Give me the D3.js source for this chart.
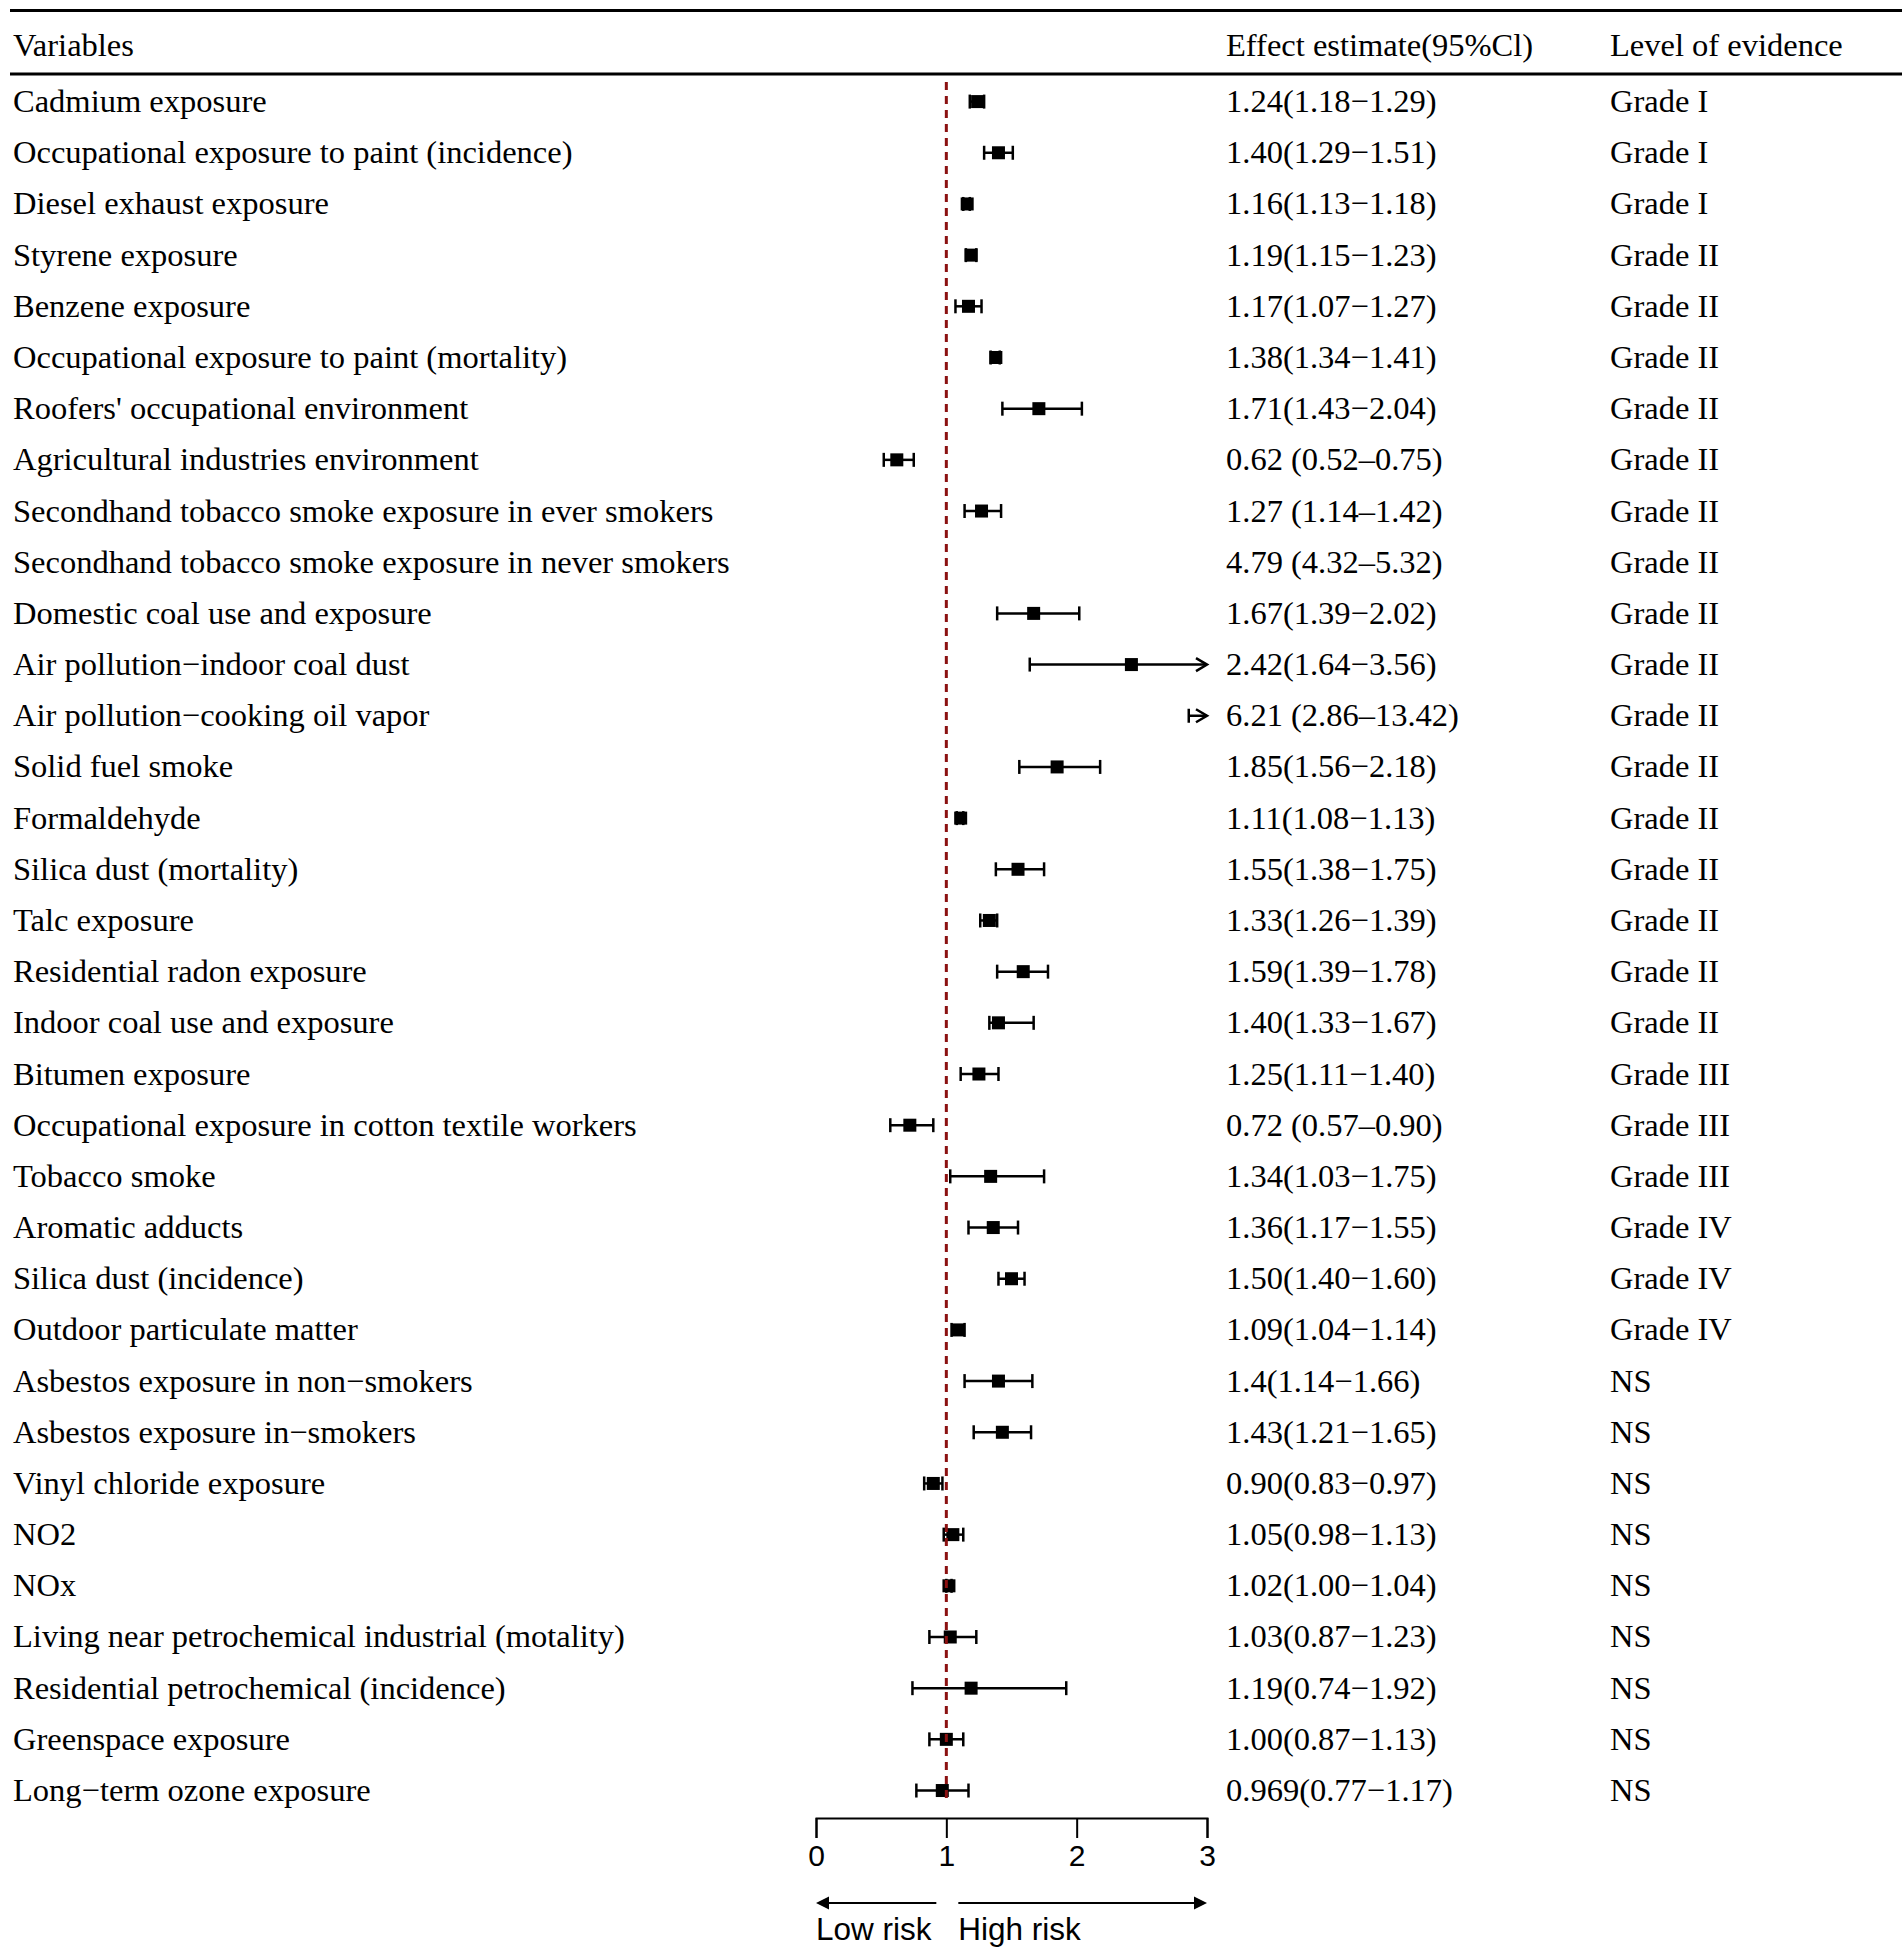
<!DOCTYPE html>
<html>
<head>
<meta charset="utf-8">
<script src="https://cdn.jsdelivr.net/npm/d3@7"></script>
<style>
  body { margin: 0; background: #fff; }
  .lab { font-family: "Liberation Serif", "Times New Roman", serif; font-size: 32.5px; fill: #000; }
  .ax text { font-family: "Liberation Sans", Arial, sans-serif; font-size: 30px; fill: #000; }
  .risk { font-family: "Liberation Sans", Arial, sans-serif; font-size: 31.5px; fill: #000; }
</style>
</head>
<body>
<div id="chart"></div>
<script>
var names = [
  "Cadmium exposure",
  "Occupational exposure to paint (incidence)",
  "Diesel exhaust exposure",
  "Styrene exposure",
  "Benzene exposure",
  "Occupational exposure to paint (mortality)",
  "Roofers' occupational environment",
  "Agricultural industries environment",
  "Secondhand tobacco smoke exposure in ever smokers",
  "Secondhand tobacco smoke exposure in never smokers",
  "Domestic coal use and exposure",
  "Air pollution\u2212indoor coal dust",
  "Air pollution\u2212cooking oil vapor",
  "Solid fuel smoke",
  "Formaldehyde",
  "Silica dust (mortality)",
  "Talc exposure",
  "Residential radon exposure",
  "Indoor coal use and exposure",
  "Bitumen exposure",
  "Occupational exposure in cotton textile workers",
  "Tobacco smoke",
  "Aromatic adducts",
  "Silica dust (incidence)",
  "Outdoor particulate matter",
  "Asbestos exposure in non\u2212smokers",
  "Asbestos exposure in\u2212smokers",
  "Vinyl chloride exposure",
  "NO2",
  "NOx",
  "Living near petrochemical industrial (motality)",
  "Residential petrochemical (incidence)",
  "Greenspace exposure",
  "Long\u2212term ozone exposure"
];
var est = [1.24,1.40,1.16,1.19,1.17,1.38,1.71,0.62,1.27,4.79,1.67,2.42,6.21,1.85,1.11,1.55,1.33,1.59,1.40,1.25,
           0.72,1.34,1.36,1.50,1.09,1.4,1.43,0.90,1.05,1.02,1.03,1.19,1.00,0.969];
var lo  = [1.18,1.29,1.13,1.15,1.07,1.34,1.43,0.52,1.14,4.32,1.39,1.64,2.86,1.56,1.08,1.38,1.26,1.39,1.33,1.11,
           0.57,1.03,1.17,1.40,1.04,1.14,1.21,0.83,0.98,1.00,0.87,0.74,0.87,0.77];
var hi  = [1.29,1.51,1.18,1.23,1.27,1.41,2.04,0.75,1.42,5.32,2.02,3.56,13.42,2.18,1.13,1.75,1.39,1.78,1.67,1.40,
           0.90,1.75,1.55,1.60,1.14,1.66,1.65,0.97,1.13,1.04,1.23,1.92,1.13,1.17];
var estLabels = [
  "1.24(1.18\u22121.29)","1.40(1.29\u22121.51)","1.16(1.13\u22121.18)","1.19(1.15\u22121.23)","1.17(1.07\u22121.27)",
  "1.38(1.34\u22121.41)","1.71(1.43\u22122.04)","0.62 (0.52\u20130.75)","1.27 (1.14\u20131.42)","4.79 (4.32\u20135.32)",
  "1.67(1.39\u22122.02)","2.42(1.64\u22123.56)","6.21 (2.86\u201313.42)","1.85(1.56\u22122.18)","1.11(1.08\u22121.13)",
  "1.55(1.38\u22121.75)","1.33(1.26\u22121.39)","1.59(1.39\u22121.78)","1.40(1.33\u22121.67)","1.25(1.11\u22121.40)",
  "0.72 (0.57\u20130.90)","1.34(1.03\u22121.75)","1.36(1.17\u22121.55)","1.50(1.40\u22121.60)","1.09(1.04\u22121.14)",
  "1.4(1.14\u22121.66)","1.43(1.21\u22121.65)","0.90(0.83\u22120.97)","1.05(0.98\u22121.13)","1.02(1.00\u22121.04)",
  "1.03(0.87\u22121.23)","1.19(0.74\u22121.92)","1.00(0.87\u22121.13)","0.969(0.77\u22121.17)"
];
var grades = ["Grade I","Grade I","Grade I","Grade II","Grade II","Grade II","Grade II","Grade II","Grade II","Grade II",
  "Grade II","Grade II","Grade II","Grade II","Grade II","Grade II","Grade II","Grade II","Grade II","Grade III",
  "Grade III","Grade III","Grade IV","Grade IV","Grade IV","NS","NS","NS","NS","NS","NS","NS","NS","NS"];
var headers = ["Variables", "Effect estimate(95%Cl)", "Level of evidence"];
var xTicks = [0, 1, 2, 3];

var W = 1902, H = 1956;
var colX = [13, 1226, 1610];

var svg = d3.select("#chart").append("svg")
  .attr("width", W).attr("height", H);
svg.append("rect").attr("width", W).attr("height", H).attr("fill", "#fff");

var x = d3.scaleLinear().domain([0, 3]).range([816, 1207]);
var y = d3.scaleBand().domain(d3.range(names.length)).range([76, 76 + 51.18 * names.length]);
function yc(i) { return y(i) + y.bandwidth() / 2; }

// rules
svg.append("line").attr("x1", 10).attr("x2", W).attr("y1", 10.5).attr("y2", 10.5)
  .attr("stroke", "#000").attr("stroke-width", 3);
svg.append("line").attr("x1", 10).attr("x2", W).attr("y1", 74).attr("y2", 74)
  .attr("stroke", "#000").attr("stroke-width", 3);

svg.selectAll("text.hdr").data(headers).enter().append("text")
  .attr("class", "lab hdr")
  .attr("x", function(d, i) { return colX[i]; })
  .attr("y", 56)
  .text(function(d) { return d; });

var rows = svg.selectAll("g.row").data(names).enter().append("g").attr("class", "row");
rows.append("text").attr("class", "lab").attr("x", colX[0])
  .attr("y", function(d, i) { return yc(i) + 10.5; }).text(function(d) { return d; });
rows.append("text").attr("class", "lab").attr("x", colX[1])
  .attr("y", function(d, i) { return yc(i) + 10.5; }).text(function(d, i) { return estLabels[i]; });
rows.append("text").attr("class", "lab").attr("x", colX[2])
  .attr("y", function(d, i) { return yc(i) + 10.5; }).text(function(d, i) { return grades[i]; });

// error bars
var xmax = x.domain()[1];
var plot = svg.append("g");
names.forEach(function(n, i) {
  var cy = yc(i);
  if (lo[i] >= xmax) return;
  var x1 = x(lo[i]), x2 = x(Math.min(hi[i], xmax));
  plot.append("line").attr("x1", x1).attr("x2", x2).attr("y1", cy).attr("y2", cy)
    .attr("stroke", "#000").attr("stroke-width", 2.5);
  plot.append("line").attr("x1", x1).attr("x2", x1).attr("y1", cy - 7).attr("y2", cy + 7)
    .attr("stroke", "#000").attr("stroke-width", 2.5);
  if (hi[i] > xmax) {
    plot.append("path")
      .attr("d", "M" + (x2 - 11) + "," + (cy - 6.5) + "L" + x2 + "," + cy + "L" + (x2 - 11) + "," + (cy + 6.5))
      .attr("fill", "none").attr("stroke", "#000").attr("stroke-width", 2.5);
  } else {
    plot.append("line").attr("x1", x2).attr("x2", x2).attr("y1", cy - 7).attr("y2", cy + 7)
      .attr("stroke", "#000").attr("stroke-width", 2.5);
  }
  if (est[i] <= xmax) {
    plot.append("rect").attr("x", x(est[i]) - 6.5).attr("y", cy - 6.5)
      .attr("width", 13).attr("height", 13).attr("fill", "#000");
  }
});

// reference line at 1
svg.append("line").attr("x1", x(1)).attr("x2", x(1)).attr("y1", 82).attr("y2", 1802)
  .attr("stroke", "#8b1111").attr("stroke-width", 3).attr("stroke-dasharray", "8,6");

// axis
var axis = d3.axisBottom(x).tickValues(xTicks).tickSize(20).tickSizeOuter(20).tickPadding(7)
  .tickFormat(d3.format("d"));
var ag = svg.append("g").attr("class", "ax").attr("transform", "translate(0,1818)").call(axis);
ag.selectAll("path,line").attr("stroke", "#000").attr("stroke-width", 2);
ag.selectAll("text").attr("font-family", null).attr("font-size", null);

// risk arrows
var ay = 1903;
svg.append("line").attr("x1", x(1) - 10).attr("x2", x(0) + 10).attr("y1", ay).attr("y2", ay)
  .attr("stroke", "#000").attr("stroke-width", 2);
svg.append("path").attr("d", "M" + x(0) + "," + ay + "l13,-6.5v13z").attr("fill", "#000");
svg.append("line").attr("x1", x(1) + 12).attr("x2", x(3) - 10).attr("y1", ay).attr("y2", ay)
  .attr("stroke", "#000").attr("stroke-width", 2);
svg.append("path").attr("d", "M" + x(3) + "," + ay + "l-13,-6.5v13z").attr("fill", "#000");
svg.append("text").attr("class", "risk").attr("x", x(0)).attr("y", 1940).text("Low risk");
svg.append("text").attr("class", "risk").attr("x", x(1) + 12).attr("y", 1940).text("High risk");
</script>
</body>
</html>
